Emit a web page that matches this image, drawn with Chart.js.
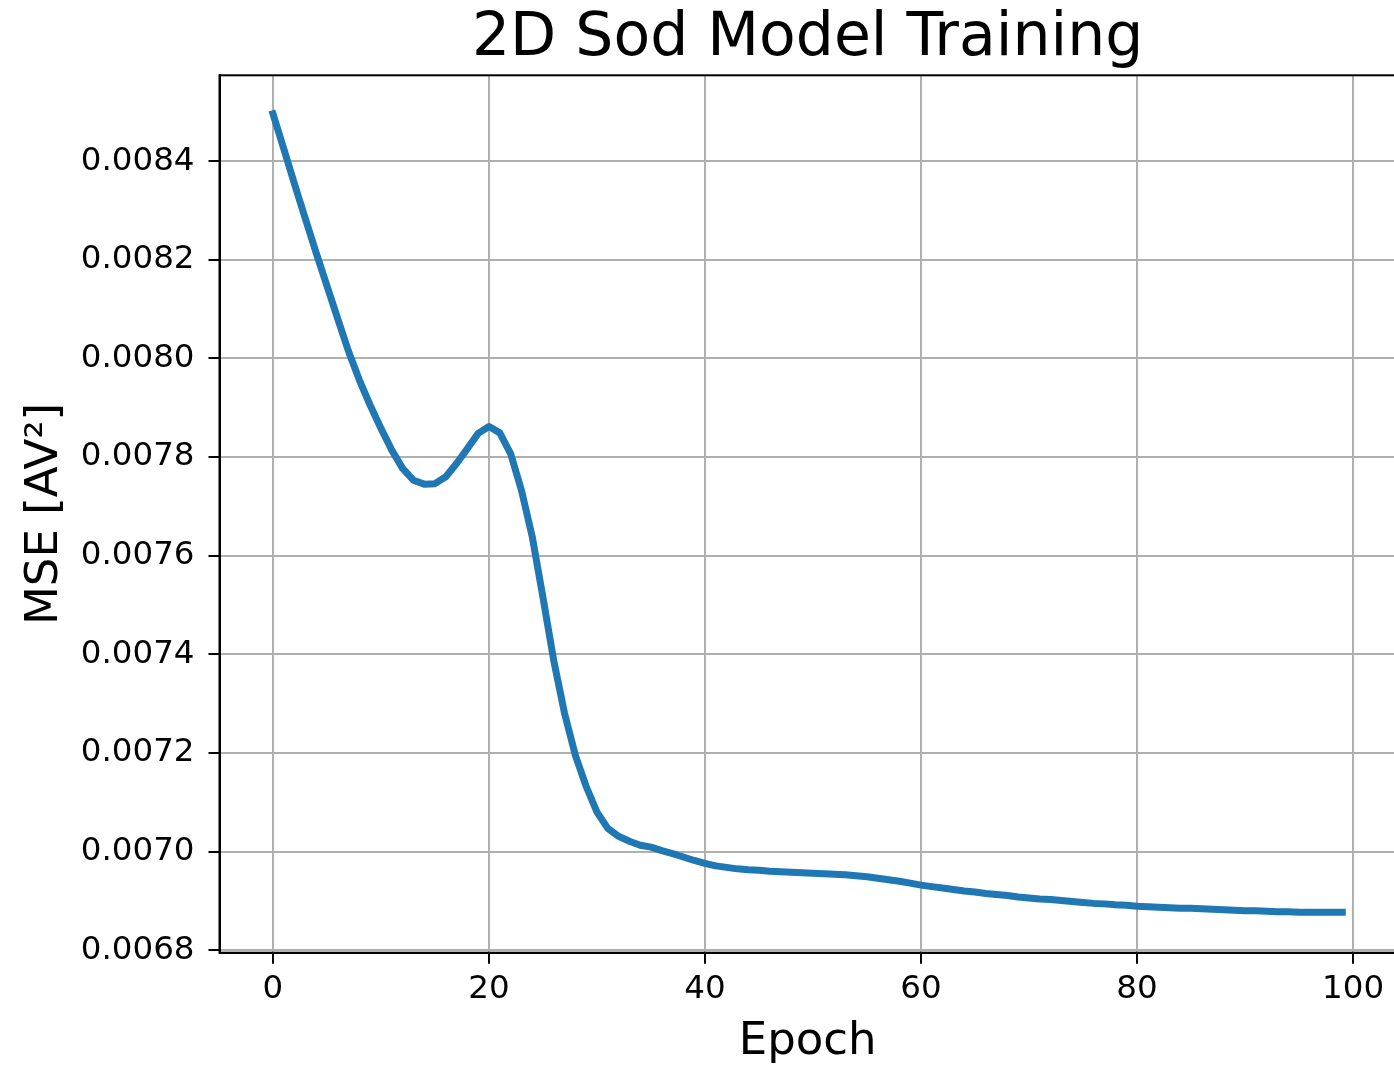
<!DOCTYPE html>
<html>
<head>
<meta charset="utf-8">
<script src="https://cdn.jsdelivr.net/npm/chart.js@4/dist/chart.umd.min.js"></script>
<style>
  html, body { margin: 0; padding: 0; background: #ffffff; overflow: hidden; }
  #wrap { position: relative; width: 1398px; height: 1065px; }
</style>
</head>
<body>
<div id="wrap"><canvas id="c"></canvas></div>
<script>
// ---- data ----
const chartTitle = '2D Sod Model Training';
const xAxisLabel = 'Epoch';
const yAxisLabel = 'MSE [AV\u00B2]';

const epochs = [
  0, 1, 2, 3, 4, 5, 6, 7, 8, 9,
  10, 11, 12, 13, 14, 15, 16, 17, 18, 19,
  20, 21, 22, 23, 24, 25, 26, 27, 28, 29,
  30, 31, 32, 33, 34, 35, 36, 37, 38, 39,
  40, 41, 42, 43, 44, 45, 46, 47, 48, 49,
  50, 51, 52, 53, 54, 55, 56, 57, 58, 59,
  60, 61, 62, 63, 64, 65, 66, 67, 68, 69,
  70, 71, 72, 73, 74, 75, 76, 77, 78, 79,
  80, 81, 82, 83, 84, 85, 86, 87, 88, 89,
  90, 91, 92, 93, 94, 95, 96, 97, 98, 99
];

const mse = [
  0.008496, 0.008425, 0.008353, 0.008283, 0.008214, 0.008147, 0.008080, 0.008014, 0.007956, 0.007905,
  0.007858, 0.007814, 0.007777, 0.007753, 0.007745, 0.007746, 0.007760, 0.007787, 0.007817, 0.007848,
  0.007862, 0.007849, 0.007807, 0.007733, 0.007639, 0.007515, 0.007387, 0.007280, 0.007195, 0.007132,
  0.007080, 0.007047, 0.007031, 0.007021, 0.007013, 0.007009, 0.007002, 0.006996, 0.006989, 0.006982,
  0.006976, 0.006971, 0.006968, 0.006965, 0.006963, 0.006962, 0.006960, 0.006959, 0.006958, 0.006957,
  0.006956, 0.006955, 0.006954, 0.006953, 0.006951, 0.006949, 0.006946, 0.006943, 0.006940, 0.006936,
  0.006932, 0.006929, 0.006926, 0.006923, 0.006920, 0.006918, 0.006915, 0.006913, 0.006911, 0.006908,
  0.006906, 0.006904, 0.006903, 0.006901, 0.006899, 0.006897, 0.006895, 0.006894, 0.006892, 0.006891,
  0.006889, 0.006888, 0.006887, 0.006886, 0.006885, 0.006885, 0.006884, 0.006883, 0.006882, 0.006881,
  0.006880, 0.006880, 0.006879, 0.006878, 0.006878, 0.006877, 0.006877, 0.006877, 0.006877, 0.006877
];

const xTicks = [0, 20, 40, 60, 80, 100];
const xTickLabels = ['0', '20', '40', '60', '80', '100'];
const yTicks = [0.0068, 0.0070, 0.0072, 0.0074, 0.0076, 0.0078, 0.0080, 0.0082, 0.0084];
const yTickLabels = ['0.0068', '0.0070', '0.0072', '0.0074', '0.0076', '0.0078', '0.0080', '0.0082', '0.0084'];

// ---- chart ----
const FONT = 'DejaVu Sans';

const frame = {
  id: 'frame',
  afterDatasetsDraw(chart) {
    const a = chart.chartArea, ctx = chart.ctx;
    ctx.save();
    ctx.strokeStyle = '#000000';
    ctx.lineWidth = 2;
    ctx.strokeRect(a.left, a.top, a.right - a.left, a.bottom - a.top);
    ctx.restore();
  }
};

new Chart(document.getElementById('c'), {
  type: 'line',
  data: {
    labels: epochs,
    datasets: [{
      data: mse,
      borderColor: '#1f77b4',
      borderWidth: 7,
      pointRadius: 0,
      pointHoverRadius: 0,
      tension: 0,
      fill: false,
      borderCapStyle: 'square',
      borderJoinStyle: 'round'
    }]
  },
  options: {
    responsive: true,
    maintainAspectRatio: false,
    animation: false,
    events: [],
    layout: { padding: { top: 0, left: 0, right: 2.3, bottom: 0 } },
    plugins: {
      legend: { display: false },
      tooltip: { enabled: false },
      title: {
        display: true,
        text: chartTitle,
        fullSize: false,
        color: '#000000',
        font: { family: FONT, size: 60, weight: 'normal', lineHeight: 1 },
        padding: { top: 9.2, bottom: 6.1 }
      }
    },
    scales: {
      x: {
        type: 'linear',
        min: -4.95,
        max: 103.95,
        afterBuildTicks: (s) => { s.ticks = xTicks.map(v => ({ value: v })); },
        afterFit: (s) => { s.height = 112.3; },
        ticks: {
          autoSkip: false,
          maxRotation: 0,
          padding: 6,
          color: '#000000',
          font: { family: FONT, size: 32.5 },
          callback: (v) => { const i = xTicks.indexOf(v); return i >= 0 ? xTickLabels[i] : ''; }
        },
        grid: {
          color: '#b0b0b0',
          lineWidth: 2,
          drawTicks: true,
          tickLength: 11,
          tickColor: '#000000',
          tickWidth: 2
        },
        border: { display: true, color: '#000000', width: 2 },
        title: {
          display: true,
          text: xAxisLabel,
          color: '#000000',
          font: { family: FONT, size: 45, lineHeight: 1 },
          padding: { top: 0, bottom: 0 }
        }
      },
      y: {
        type: 'linear',
        min: 0.006795,
        max: 0.008574,
        afterBuildTicks: (s) => { s.ticks = yTicks.map(v => ({ value: v })); },
        afterFit: (s) => { s.width = 219.5; },
        ticks: {
          autoSkip: false,
          padding: 14,
          color: '#000000',
          font: { family: FONT, size: 32.5 },
          callback: (v) => {
            let best = 0, bd = Infinity;
            yTicks.forEach((t, i) => { const d = Math.abs(t - v); if (d < bd) { bd = d; best = i; } });
            return yTickLabels[best];
          }
        },
        grid: {
          color: '#b0b0b0',
          lineWidth: 2,
          drawTicks: true,
          tickLength: 11,
          tickColor: '#000000',
          tickWidth: 2
        },
        border: { display: true, color: '#000000', width: 2 },
        title: {
          display: true,
          text: yAxisLabel,
          color: '#000000',
          font: { family: FONT, size: 45, lineHeight: 1 },
          padding: { top: 23, bottom: 0 }
        }
      }
    }
  },
  plugins: [frame]
});
</script>
</body>
</html>
